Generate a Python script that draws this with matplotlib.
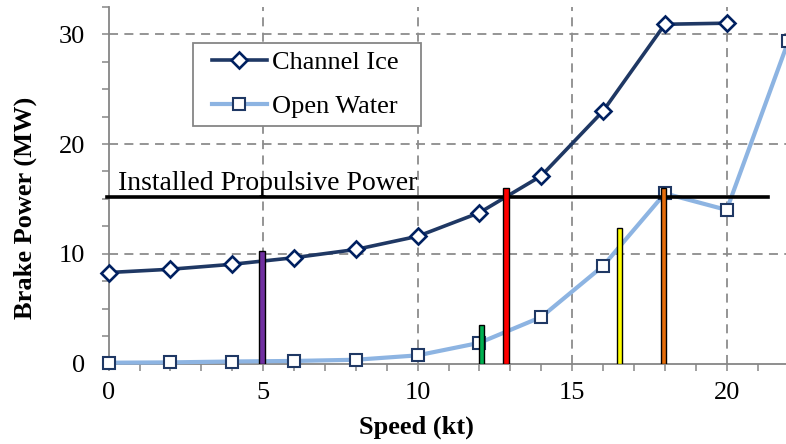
import matplotlib
matplotlib.use("Agg")
import matplotlib.pyplot as plt
from matplotlib.ticker import MultipleLocator
from matplotlib.patches import Rectangle

# Data
speed_ice = [0, 2, 4, 6, 8, 10, 12, 14, 16, 18, 20]
power_ice = [8.3, 8.6, 9.05, 9.65, 10.4, 11.6, 13.75, 17.1, 23.0, 30.9, 31.0]
speed_ow = [0, 2, 4, 6, 8, 10, 12, 14, 16, 18, 20, 22]
power_ow = [0.09, 0.12, 0.2, 0.25, 0.36, 0.76, 1.9, 4.25, 8.9, 15.5, 14.0, 29.4]
installed_power = 15.15
installed_x = [-0.05, 21.35]
bar_x = [4.96, 12.06, 12.86, 16.53, 17.96]
bar_h = [10.3, 3.5, 16.0, 12.35, 16.03]
bar_colors = ["#7030A0", "#00B050", "#FF0000", "#FFFF00", "#E46C0A"]

plt.rcParams['font.family'] = ['Liberation Serif', 'DejaVu Serif']

W, H = 786, 444
fig = plt.figure(figsize=(W/100, H/100), dpi=100)
ax = fig.add_axes([108.7/W, 80.3/H, (W-108.7)/W, 357/H])

grid_kw = dict(color="#8c8c8c", linewidth=1.3, linestyle=(0, (5, 3.5)), zorder=0)
for gx in [5, 10, 15, 20]:
    ax.axvline(gx, **grid_kw)
for gy in [10, 20, 30]:
    ax.axhline(gy, **grid_kw)

ax.plot(speed_ow, power_ow, color="#8DB4E2", linewidth=3.0, marker="s",
        markersize=8.4, markerfacecolor="white", markeredgecolor="#1F3864",
        markeredgewidth=1.5, label="Open Water", zorder=3, clip_on=False)
ax.plot(speed_ice, power_ice, color="#1F3864", linewidth=2.6, marker="D",
        markersize=8.0, markerfacecolor="white", markeredgecolor="#002060",
        markeredgewidth=1.9, label="Channel Ice", zorder=4, clip_on=False)

ax.plot(installed_x, [installed_power]*2, color="black", linewidth=2.6, zorder=5,
        clip_on=False)
ax.text(0.3, 15.82, "Installed Propulsive Power", fontsize=20, va="baseline",
        ha="left", zorder=6)

ax.bar(bar_x, bar_h, width=0.18, color=bar_colors, edgecolor="black",
       linewidth=1.0, zorder=6)

ax.set_xlim(0, 21.92)
ax.set_ylim(0, 32.5)
ax.xaxis.set_major_locator(MultipleLocator(5))
ax.xaxis.set_minor_locator(MultipleLocator(1))
ax.yaxis.set_major_locator(MultipleLocator(10))
ax.yaxis.set_minor_locator(MultipleLocator(2.5))

for s in ["top", "right"]:
    ax.spines[s].set_visible(False)
for s in ["left", "bottom"]:
    ax.spines[s].set_color("#868686")
    ax.spines[s].set_linewidth(1.3)
    ax.spines[s].set_zorder(2)

ax.tick_params(axis="both", which="both", direction="out", color="#868686",
               width=1.1, length=5)
ax.tick_params(axis="x", which="major", labelsize=19, pad=8)
ax.tick_params(axis="y", which="major", labelsize=19, pad=12)

ax.set_xlabel("Speed (kt)", fontsize=19, fontweight="bold")
ax.xaxis.set_label_coords((416.7-108.7)/(W-108.7), -(427-363.7)/357, transform=ax.transAxes)
ax.xaxis.label.set_verticalalignment("center")
ax.set_ylabel("Brake Power (MW)", fontsize=19, fontweight="bold")
ax.yaxis.set_label_coords(-(108.7-25)/(W-108.7), (363.7-208)/357, transform=ax.transAxes)
ax.yaxis.label.set_verticalalignment("center")

# Legend frame
frame = Rectangle((192.7/W, 1-125.7/H), (420.7-192.7)/W, (125.7-43.3)/H,
                  transform=fig.transFigure, facecolor="white", edgecolor="#868686",
                  linewidth=1.3, zorder=6.5)
fig.add_artist(frame)

handles, labels = ax.get_legend_handles_labels()
leg = ax.legend(handles[::-1], labels[::-1], loc="center left",
                bbox_to_anchor=(212/W, 1-84.5/H), bbox_transform=fig.transFigure,
                fontsize=19, frameon=False, handlelength=2.08, handletextpad=0.18,
                borderaxespad=0, borderpad=0, labelspacing=0.77)
leg.set_zorder(7)
fig.add_artist(leg)
ax.get_legend().remove() if ax.get_legend() is not leg else None

fig.savefig("out.png", dpi=100)
